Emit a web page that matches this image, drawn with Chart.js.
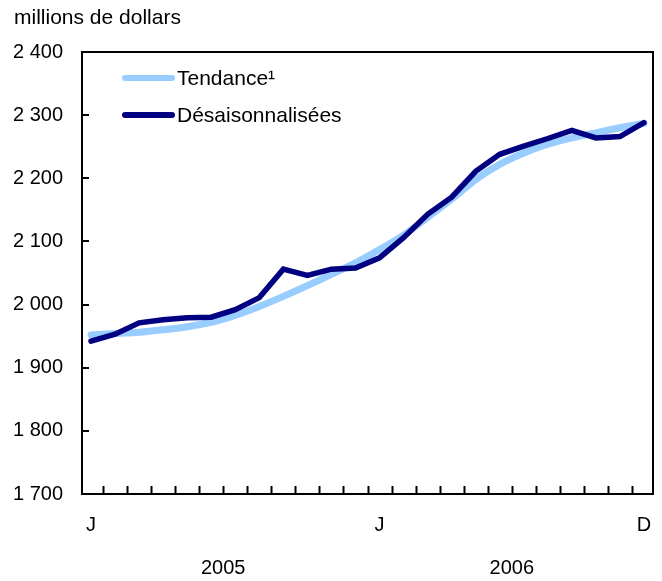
<!DOCTYPE html>
<html>
<head>
<meta charset="utf-8">
<script src="https://cdn.jsdelivr.net/npm/chart.js@4/dist/chart.umd.min.js"></script>
<style>
  html, body { margin: 0; padding: 0; background: #fff; }
  #c { display: block; }
</style>
</head>
<body>
<canvas id="c" width="662" height="581" style="width:662px;height:581px"></canvas>
<script>
// ---- data ----
const months = ['J','F','M','A','M','J','J','A','S','O','N','D','J','F','M','A','M','J','J','A','S','O','N','D'];
const shownMonthIdx = [0, 12, 23];
const years = ['2005', '2006'];
const trend = [1952, 1954, 1956, 1960, 1965, 1972, 1983, 1997, 2013, 2030, 2048, 2066,
               2087, 2110, 2138, 2167, 2198, 2222, 2240, 2254, 2264, 2272, 2280, 2287];
const seasonal = [1942, 1953, 1971, 1976, 1979, 1980, 1992, 2011, 2056, 2046, 2056, 2058,
                  2074, 2106, 2143, 2170, 2211, 2238, 2251, 2263, 2276, 2264, 2266, 2288];
const seriesNames = ['Tendance\u00B9', 'D\u00E9saisonnalis\u00E9es'];
const yMin = 1700, yMax = 2400, yStep = 100;
const unitLabel = 'millions de dollars';

const FONT = '"Liberation Sans", Arial, Helvetica, sans-serif';
const LIGHT = '#99CCFF';
const DARK = '#000080';

function fmt(v) { return String(v).replace(/\B(?=(\d{3})+(?!\d))/g, ' '); }

const decor = {
  id: 'decor',
  beforeDatasetsDraw(chart) {
    const { ctx, chartArea: a, scales: { x, y } } = chart;
    ctx.save();
    ctx.strokeStyle = '#000';
    ctx.lineWidth = 2;
    ctx.lineCap = 'butt';
    ctx.beginPath();
    for (let i = 0; i < months.length - 1; i++) {
      const px = Math.round(x.getPixelForValue(i + 0.5)) + 0.5;
      ctx.moveTo(px, a.bottom);
      ctx.lineTo(px, a.bottom - 8);
    }
    for (let v = yMin + yStep; v < yMax; v += yStep) {
      const py = Math.round(y.getPixelForValue(v));
      ctx.moveTo(a.left, py);
      ctx.lineTo(a.left + 7, py);
    }
    ctx.stroke();
    ctx.strokeRect(a.left, a.top, a.right - a.left, a.bottom - a.top);
    ctx.restore();
  },
  afterDraw(chart) {
    const { ctx, scales: { x } } = chart;
    ctx.save();
    ctx.fillStyle = '#000';
    ctx.font = '21px ' + FONT;
    ctx.textBaseline = 'middle';
    ctx.textAlign = 'left';
    ctx.fillText(unitLabel, 14, 18);
    ctx.font = '20px ' + FONT;
    ctx.textAlign = 'center';
    years.forEach((yr, k) => {
      const cx = x.getPixelForValue(k * 12 + 5.5);
      ctx.fillText(yr, cx, 568);
    });
    const rows = [{ name: seriesNames[0], color: LIGHT, w: 6, y: 78 },
                  { name: seriesNames[1], color: DARK, w: 6, y: 115 }];
    ctx.font = '21px ' + FONT;
    ctx.textAlign = 'left';
    rows.forEach(r => {
      ctx.strokeStyle = r.color;
      ctx.lineWidth = r.w;
      ctx.lineCap = 'round';
      ctx.beginPath();
      ctx.moveTo(125, r.y);
      ctx.lineTo(172, r.y);
      ctx.stroke();
      ctx.fillStyle = '#000';
      ctx.fillText(r.name, 177, r.y + 1);
    });
    ctx.restore();
  }
};

new Chart(document.getElementById('c'), {
  type: 'line',
  data: {
    datasets: [
      { label: seriesNames[0], data: trend.map((v, i) => ({ x: i, y: v })),
        borderColor: LIGHT, borderWidth: 7, pointRadius: 0, tension: 0.2, order: 2,
        borderJoinStyle: 'round', borderCapStyle: 'round' },
      { label: seriesNames[1], data: seasonal.map((v, i) => ({ x: i, y: v })),
        borderColor: DARK, borderWidth: 5.5, pointRadius: 0, tension: 0, order: 1,
        borderJoinStyle: 'miter', borderCapStyle: 'round' }
    ]
  },
  options: {
    responsive: false,
    maintainAspectRatio: false,
    animation: false,
    devicePixelRatio: 1,
    layout: { padding: { left: 0, top: 52, right: 9, bottom: 0 } },
    plugins: { legend: { display: false }, tooltip: { enabled: false }, title: { display: false } },
    scales: {
      x: {
        type: 'linear',
        min: -0.375, max: months.length - 1 + 0.375,
        grid: { display: false, drawTicks: false },
        border: { display: false },
        afterBuildTicks: (s) => { s.ticks = months.map((_, i) => ({ value: i })); },
        afterFit: (s) => { s.height = 87; s.paddingLeft = 0; s.paddingRight = 0; },
        ticks: {
          autoSkip: false, maxRotation: 0, minRotation: 0, padding: 19,
          color: '#000', font: { family: FONT, size: 20 },
          callback: (v, i) => shownMonthIdx.includes(i) ? months[i] : ''
        }
      },
      y: {
        min: yMin, max: yMax,
        grid: { display: false, drawTicks: false },
        border: { display: false },
        afterFit: (s) => { s.width = 82; s.paddingTop = 0; s.paddingBottom = 0; },
        ticks: {
          stepSize: yStep, padding: 19, color: '#000', font: { family: FONT, size: 20 },
          callback: (v) => fmt(v)
        }
      }
    }
  },
  plugins: [decor]
});
</script>
</body>
</html>
